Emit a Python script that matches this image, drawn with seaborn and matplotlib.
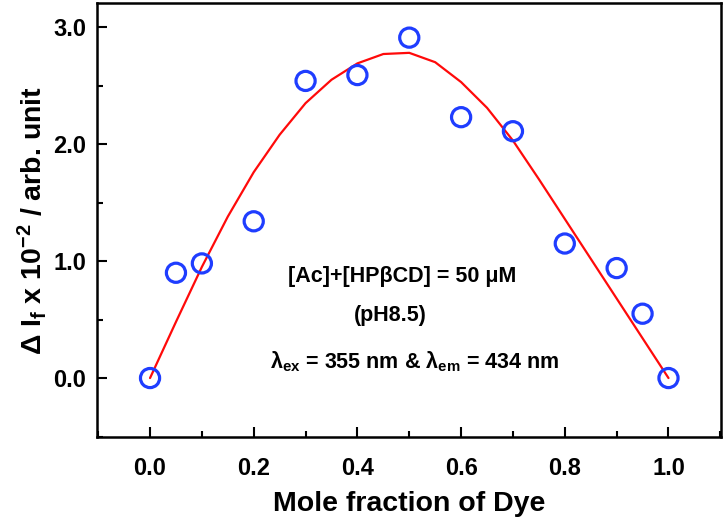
import matplotlib
matplotlib.use("Agg")
import matplotlib.pyplot as plt
from matplotlib.ticker import MultipleLocator
import seaborn as sns
import pandas as pd

# measured data (mole fraction of dye vs delta If x 1e-2)
mole_fraction = [0.0, 0.05, 0.1, 0.2, 0.3, 0.4, 0.5, 0.6, 0.7, 0.8, 0.9, 0.95, 1.0]
delta_if = [0.0, 0.90, 0.98, 1.34, 2.54, 2.59, 2.91, 2.23, 2.11, 1.15, 0.94, 0.55, 0.0]

# fitted curve
fit_x = [0.0, 0.05, 0.1, 0.15, 0.2, 0.25, 0.3, 0.35, 0.4, 0.45, 0.5,
         0.55, 0.6, 0.65, 0.7, 0.75, 0.8, 0.85, 0.9, 0.95, 1.0]
fit_y = [0.0, 0.48, 0.95, 1.38, 1.76, 2.08, 2.35, 2.55, 2.69, 2.77, 2.78,
         2.70, 2.53, 2.31, 2.03, 1.70, 1.36, 1.02, 0.68, 0.34, 0.0]

x_ticks = [0.0, 0.2, 0.4, 0.6, 0.8, 1.0]
y_ticks = [0.0, 1.0, 2.0, 3.0]

sns.set_theme(style="ticks")
plt.rcParams["font.family"] = ["Liberation Sans", "DejaVu Sans"]
plt.rcParams["font.weight"] = "bold"
plt.rcParams["mathtext.fontset"] = "custom"
plt.rcParams["mathtext.rm"] = "Liberation Sans:bold"
plt.rcParams["mathtext.it"] = "Liberation Sans:bold"
plt.rcParams["mathtext.bf"] = "Liberation Sans:bold"
plt.rcParams["mathtext.default"] = "rm"
plt.rcParams["axes.unicode_minus"] = False
for key in ["text.color", "axes.labelcolor", "xtick.color", "ytick.color", "axes.edgecolor"]:
    plt.rcParams[key] = "black"

fig = plt.figure(figsize=(7.25, 5.21), dpi=100)
ax = fig.add_axes([0.134, 0.161, 0.861, 0.833])

df_pts = pd.DataFrame({"x": mole_fraction, "y": delta_if})
df_fit = pd.DataFrame({"x": fit_x, "y": fit_y})

sns.lineplot(data=df_fit, x="x", y="y", ax=ax, color="#ff0a0a", lw=1.6, sort=True, zorder=2)
sns.scatterplot(data=df_pts, x="x", y="y", ax=ax, marker="o", s=190,
                facecolors="none", edgecolor="#1f3dff", linewidth=2.3, zorder=3)

ax.set_xlim(-0.102, 1.102)
ax.set_ylim(-0.505, 3.205)
ax.set_xticks(x_ticks)
ax.set_xticklabels([f"{v:.1f}" for v in x_ticks])
ax.set_yticks(y_ticks)
ax.set_yticklabels([f"{v:.1f}" for v in y_ticks])
ax.xaxis.set_minor_locator(MultipleLocator(0.1))
ax.yaxis.set_minor_locator(MultipleLocator(0.5))
ax.tick_params(which="both", top=False, right=False, direction="in", width=1.5)
ax.tick_params(which="major", length=7, labelsize=17)
ax.tick_params(which="minor", length=4.5)
ax.tick_params(axis="x", which="major", pad=14)
ax.tick_params(axis="y", which="major", pad=8)
for lab in ax.get_xticklabels() + ax.get_yticklabels():
    lab.set_fontweight("bold")
for sp in ax.spines.values():
    sp.set_visible(True)
    sp.set_linewidth(1.8)
    sp.set_color("black")

ax.set_xlabel("Mole fraction of Dye", fontsize=20.5, fontweight="bold", labelpad=8)
ax.set_ylabel(r"Δ I$_{f}$ x 10$^{-2}$ / arb. unit", fontsize=20.5, fontweight="bold", labelpad=3)

ax.text(0.487, 0.82, "[Ac]+[HPβCD] = 50 μM", fontsize=15.5, fontweight="bold",
        ha="center", va="baseline")
ax.text(0.463, 0.49, "(pH8.5)", fontsize=15.5, fontweight="bold", ha="center", va="baseline")
ax.text(0.51, 0.085, r"λ$_{ex}$ = 355 nm & λ$_{em}$ = 434 nm", fontsize=15.5,
        fontweight="bold", ha="center", va="baseline")

fig.savefig("out.png", dpi=100)
